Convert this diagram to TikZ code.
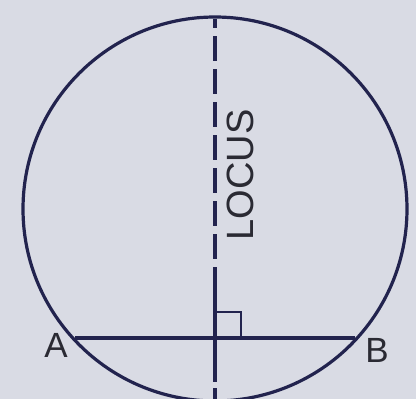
\documentclass[tikz,border=0pt]{standalone}
\usepackage{fontspec}
\setmainfont{Liberation Sans}
\begin{document}
\begin{tikzpicture}[x=1pt,y=-1pt,
  ink/.style={draw=linecol,line width=3.2pt},
  lbl/.style={text=textcol,inner sep=0pt,font=\fontsize{35}{35}\selectfont}]
\definecolor{linecol}{HTML}{22234E}
\definecolor{textcol}{HTML}{2A2A33}
\definecolor{bgcol}{HTML}{D9DBE4}
\fill[bgcol] (0,0) rectangle (416,399);
\useasboundingbox (0,0) rectangle (416,399);
\begin{scope}
\clip (0,0) rectangle (416,399);
\coordinate (O) at (215,209);
\draw[ink] (O) circle[radius=192];
\coordinate (Pa) at (75,338);
\coordinate (Pb) at (355,338);
\draw[ink] (Pa) -- (Pb);
\coordinate (T) at (215,19);
\coordinate (M1) at (215,292);
\coordinate (M2) at (215,382);
\coordinate (M3) at (215,388);
\coordinate (Bt) at (215,402);
\draw[ink,dash pattern=on 24.5pt off 8.5pt,dash phase=16pt] (T) -- (M1);
\draw[ink] (M1) -- (M2);
\draw[ink] (M3) -- (Bt);
\coordinate (S1) at (215,312);
\coordinate (S2) at (241,312);
\coordinate (S3) at (241,338);
\draw[ink,line width=2.6pt] (S1) -- (S2) -- (S3);
\end{scope}
\node[lbl,rotate=90,font=\fontsize{38}{38}\selectfont] (locus) at (240,175) {LOCUS};
\node[lbl] (A) at (56,345) {A};
\node[lbl] (B) at (377,350) {B};
\end{tikzpicture}
\end{document}
